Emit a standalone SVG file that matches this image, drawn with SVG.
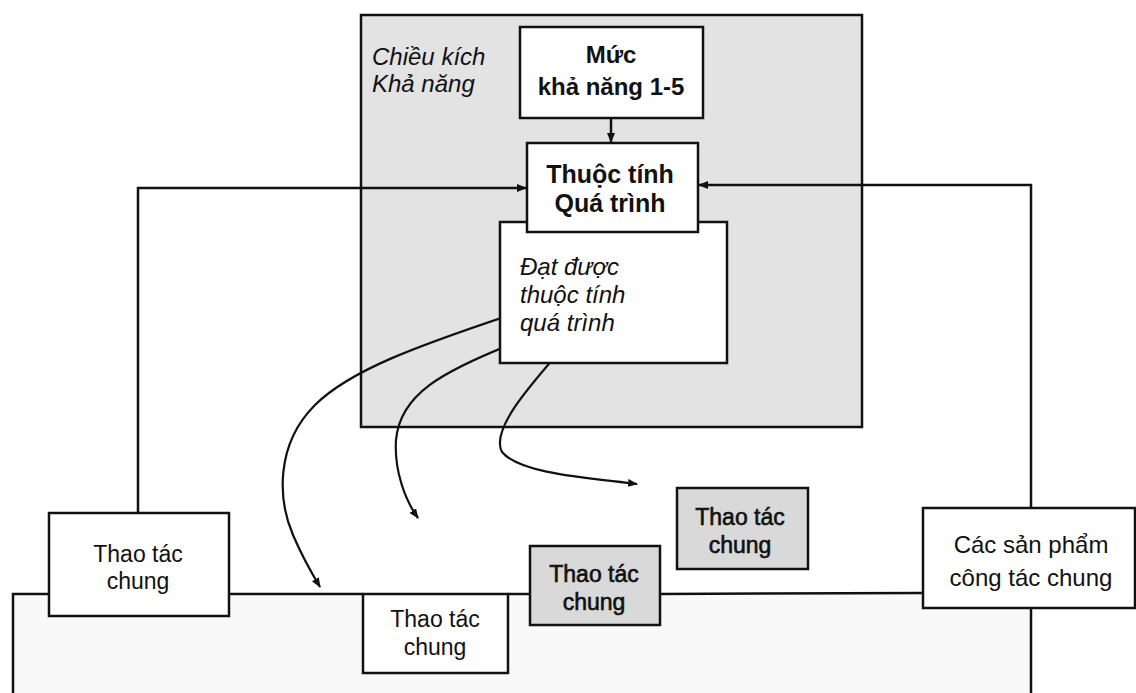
<svg xmlns="http://www.w3.org/2000/svg" width="1136" height="693" viewBox="0 0 1136 693">
<defs>
<marker id="ah" markerWidth="10" markerHeight="10" refX="9" refY="5" orient="auto" markerUnits="userSpaceOnUse">
<path d="M0,1 L10,5 L0,9 Z" fill="#111"/>
</marker>
<style>
.box{fill:#fff;stroke:#111;stroke-width:2.5}
.gray{fill:#d9d9d9;stroke:#111;stroke-width:2.5}
.ln{fill:none;stroke:#111;stroke-width:2.5}
.cv{fill:none;stroke:#111;stroke-width:2.2}
text{font-family:"Liberation Sans",Arial,sans-serif;fill:#111;text-anchor:middle}
.b{font-weight:bold}
.i{font-style:italic;text-anchor:start}
.r{font-size:23px}
.d{stroke:#111;stroke-width:0.6}
</style>
</defs>
<rect width="1136" height="693" fill="#fff"/>
<g id="bottom-region">
<path d="M13,693 L13,594 L1031,594 L1031,693" fill="#f9f9f9" stroke="none"/>
</g>
<g id="capability-dimension">
<rect x="361" y="15" width="501" height="412" fill="#e3e3e3" stroke="#111" stroke-width="2.5"/>
<text class="i" x="372" y="65" font-size="24">Chiều kích</text>
<text class="i" x="372" y="92" font-size="24">Khả năng</text>
</g>
<g id="connectors">
<path class="ln" d="M13,693 L13,594 L49,594"/>
<path class="ln" d="M229,594 L363,594"/>
<path class="ln" d="M508,594 L530,594"/>
<path class="ln" d="M660,594 L923,593"/>
<path class="ln" d="M1031,608 L1031,693"/>
<path class="ln" d="M138,513 L138,188 L526,188" marker-end="url(#ah)"/>
<path class="ln" d="M1031,508 L1031,185 L699,185" marker-end="url(#ah)"/>
<path class="ln" d="M611,118 L611,142" marker-end="url(#ah)"/>
<path class="cv" d="M510,315 C420,345 350,370 315,405 C275,445 278,500 293,535 C302,556 311,572 320,587" marker-end="url(#ah)"/>
<path class="cv" d="M517,342 C440,372 400,395 396,440 C394,470 405,500 418,518" marker-end="url(#ah)"/>
<path class="cv" d="M567,343 C530,385 490,430 502,452 C520,474 590,478 637,484" marker-end="url(#ah)"/>
</g>
<g id="level">
<rect class="box" x="520" y="27" width="183" height="91"/>
<text class="b" x="611" y="63" font-size="24">Mức</text>
<text class="b" x="611" y="95" font-size="24">khả năng 1-5</text>
</g>
<g id="achievement">
<rect class="box" x="500" y="222" width="227" height="141"/>
<text class="i" x="520" y="275" font-size="24">Đạt được</text>
<text class="i" x="520" y="303" font-size="24">thuộc tính</text>
<text class="i" x="520" y="331" font-size="24">quá trình</text>
</g>
<g id="attribute">
<rect class="box" x="527" y="143" width="171" height="89"/>
<text class="b" x="610" y="183" font-size="25">Thuộc tính</text>
<text class="b" x="610" y="212" font-size="25">Quá trình</text>
</g>
<g id="practice-left">
<rect class="box" x="49" y="513" width="180" height="103"/>
<text class="r" x="138" y="562">Thao tác</text>
<text class="r" x="138" y="589">chung</text>
</g>
<g id="practice-low">
<rect class="box" x="363" y="594" width="145" height="79"/>
<text class="r" x="435" y="627">Thao tác</text>
<text class="r" x="435" y="655">chung</text>
</g>
<g id="practice-mid">
<rect class="gray" x="530" y="546" width="130" height="79"/>
<text class="r d" x="594" y="582">Thao tác</text>
<text class="r d" x="594" y="610">chung</text>
</g>
<g id="practice-high">
<rect class="gray" x="677" y="488" width="131" height="81"/>
<text class="r d" x="740" y="525">Thao tác</text>
<text class="r d" x="740" y="553">chung</text>
</g>
<g id="products">
<rect class="box" x="923" y="508" width="212" height="100"/>
<text x="1031" y="553" font-size="24">Các sản phẩm</text>
<text x="1031" y="586" font-size="24">công tác chung</text>
</g>
</svg>
